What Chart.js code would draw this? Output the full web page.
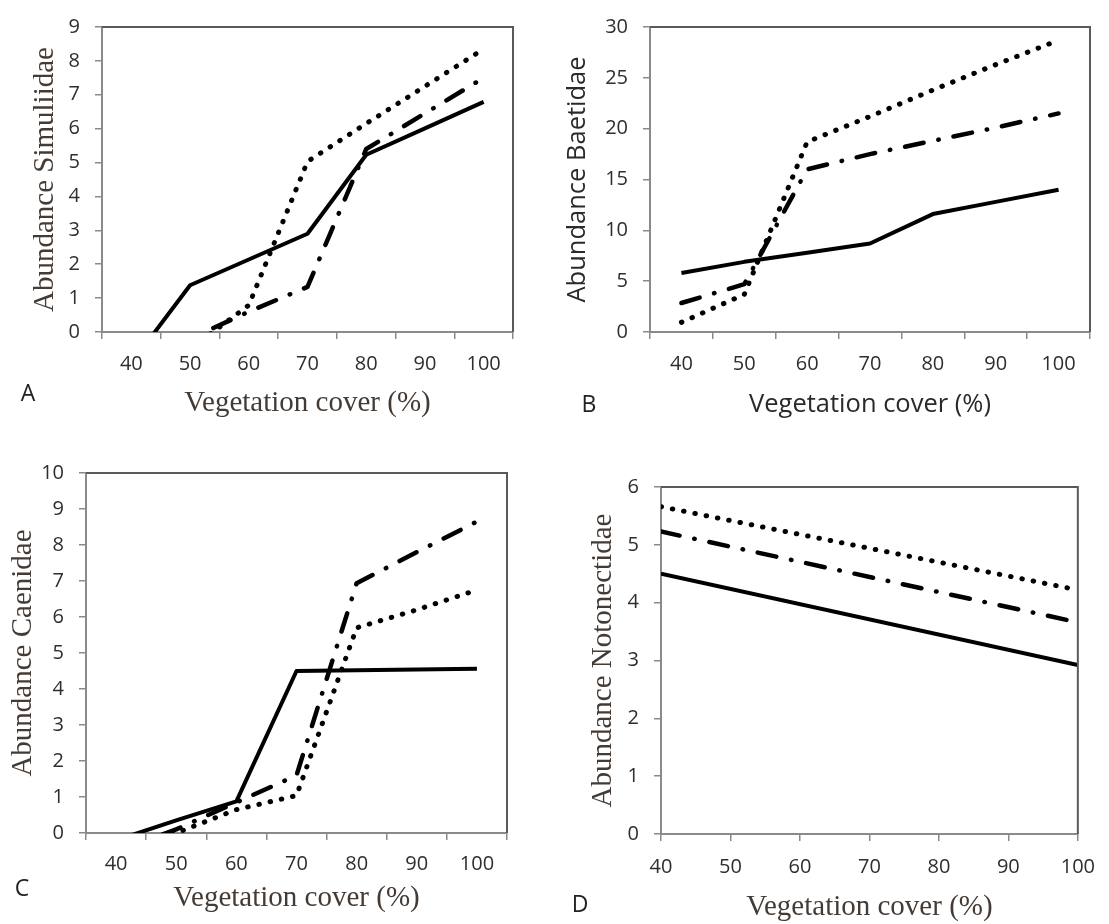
<!DOCTYPE html>
<html>
<head>
<meta charset="utf-8">
<script src="https://cdn.jsdelivr.net/npm/chart.js@4.4.1/dist/chart.umd.min.js"></script>
<style>
    body { margin: 0; background: #fff; width: 1109px; height: 924px; position: relative; overflow: hidden; }
    canvas { position: absolute; }
    .letter { position: absolute; font-family: 'Open Sans', sans-serif; font-size: 23px; color: #222; line-height: 1; transform: translate(-50%, -50%); }
</style>
</head>
<body>
<canvas id="chartA" width="540" height="430" style="left:0;top:0"></canvas>
<canvas id="chartB" width="569" height="430" style="left:540px;top:0"></canvas>
<canvas id="chartC" width="540" height="484" style="left:0;top:440px"></canvas>
<canvas id="chartD" width="549" height="464" style="left:560px;top:460px"></canvas>
<div class="letter" style="left:28px;top:392px">A</div>
<div class="letter" style="left:589px;top:403px">B</div>
<div class="letter" style="left:22px;top:887px">C</div>
<div class="letter" style="left:580px;top:903px">D</div>

<script>
// x categories (vegetation cover, %)
const vegCover = ['40', '50', '60', '70', '80', '90', '100'];

// A - Simuliidae
const simuliidaeSolid = [-0.92, 1.38, 2.14, 2.9, 5.23, 6.01, 6.79];
const simuliidaeDot = [-2.5, -0.5, 0.79, 5.03, 6.15, 7.25, 8.35];
const simuliidaeDashDot = [-1.5, -0.2, 0.6, 1.33, 5.4, 6.45, 7.5];

// B - Baetidae
const baetidaeSolid = [5.8, 6.9, 7.8, 8.7, 11.6, 12.8, 14.0];
const baetidaeDot = [0.95, 3.7, 18.7, 21.2, 23.8, 26.3, 28.7];
const baetidaeDashDot = [2.85, 4.7, 16.0, 17.5, 18.8, 20.1, 21.5];

// C - Caenidae
const caenidaeSolid = [-0.2, 0.35, 0.88, 4.5, 4.52, 4.54, 4.56];
const caenidaeDot = [-0.4, 0.0, 0.65, 1.04, 5.7, 6.2, 6.75];
const caenidaeDashDot = [-0.5, 0.1, 0.85, 1.6, 6.94, 7.8, 8.65];

// D - Notonectidae (straight lines, only the end points are known)
const notonectidaeSolid = [4.5, null, null, null, null, null, 2.92];
const notonectidaeDot = [5.66, null, null, null, null, null, 4.22];
const notonectidaeDashDot = [5.23, null, null, null, null, null, 3.66];

const axisGray = '#8a8a8a';
const frameGray = '#5a5a5a';
const tickColor = '#2e2e2e';
const serifColor = '#453b35';

// top and right edge of the plot box
const framePlugin = {
    id: 'frame',
    afterDraw(chart) {
        const { ctx, chartArea: { left, right, top, bottom } } = chart;
        ctx.save();
        ctx.strokeStyle = frameGray;
        ctx.lineWidth = 2;
        ctx.beginPath();
        ctx.moveTo(left, top);
        ctx.lineTo(right, top);
        ctx.lineTo(right, bottom);
        ctx.stroke();
        ctx.restore();
    }
};

function lineSet(data, style) {
    const ds = {
        data: data,
        borderColor: '#000',
        borderWidth: 4,
        pointRadius: 0,
        tension: 0,
        fill: false,
        spanGaps: true,
        borderJoinStyle: 'round',
        clip: 0
    };
    if (style === 'dot') {
        ds.borderWidth = 5;
        ds.borderDash = [0.5, 11];
        ds.borderCapStyle = 'round';
    } else if (style === 'dashdot') {
        ds.borderWidth = 4.5;
        ds.borderDash = [19, 15, 0.5, 15];
        ds.borderCapStyle = 'round';
    }
    return ds;
}

function makePanel(id, cfg) {
    const serif = cfg.serif;
    const titleFont = serif
        ? { family: 'Liberation Serif', size: 29, lineHeight: 1 }
        : { family: 'Open Sans', size: 25.5, lineHeight: 1 };
    const titleColor = serif ? serifColor : '#2a2a2a';
    const tickFont = { family: 'Open Sans', size: 20 };

    // panels A-C put labels between the tick marks, D puts them on the tick marks
    const between = !cfg.edgeLabels;

    return new Chart(document.getElementById(id), {
        type: 'line',
        data: {
            labels: vegCover,
            datasets: cfg.series.map(s => lineSet(s.data, s.style))
        },
        options: {
            responsive: false,
            animation: false,
            layout: { padding: { left: 0, top: cfg.top, right: cfg.right, bottom: 0 } },
            plugins: { legend: { display: false }, tooltip: { enabled: false } },
            scales: {
                x: {
                    type: 'category',
                    position: 'bottom',
                    offset: between,
                    ticks: { font: tickFont, color: tickColor, padding: cfg.xPad, maxRotation: 0, autoSkip: false },
                    grid: { offset: between, drawOnChartArea: false, tickLength: 7, color: axisGray, lineWidth: 1.5 },
                    border: { color: axisGray, width: 2 },
                    title: { display: true, text: 'Vegetation cover (%)', font: titleFont, color: titleColor, padding: { top: 0, bottom: cfg.xTitlePad } },
                    afterFit: s => { s.height = cfg.xHeight; }
                },
                y: {
                    min: 0, max: cfg.yMax,
                    ticks: { stepSize: cfg.yStep, font: tickFont, color: tickColor, padding: 15 },
                    grid: { drawOnChartArea: false, tickLength: 7, color: axisGray, lineWidth: 1.5 },
                    border: { color: axisGray, width: 2 },
                    title: { display: true, text: cfg.yTitle, font: titleFont, color: titleColor, padding: { top: cfg.yTitlePad, bottom: 0 } },
                    afterFit: s => { s.width = cfg.yWidth; }
                }
            }
        },
        plugins: [framePlugin]
    });
}

makePanel('chartA', {
    serif: true, yTitle: 'Abundance Simuliidae', yMax: 9, yStep: 1,
    top: 17, right: 27, yWidth: 102, xHeight: 98, xPad: 13, xTitlePad: 12, yTitlePad: 31,
    series: [
        { data: simuliidaeSolid, style: 'solid' },
        { data: simuliidaeDot, style: 'dot' },
        { data: simuliidaeDashDot, style: 'dashdot' }
    ]
});

makePanel('chartB', {
    serif: false, yTitle: 'Abundance Baetidae', yMax: 30, yStep: 5,
    top: 22, right: 19, yWidth: 110, xHeight: 98, xPad: 13, xTitlePad: 13, yTitlePad: 25,
    series: [
        { data: baetidaeSolid, style: 'solid' },
        { data: baetidaeDot, style: 'dot' },
        { data: baetidaeDashDot, style: 'dashdot' }
    ]
});

makePanel('chartC', {
    serif: true, yTitle: 'Abundance Caenidae', yMax: 10, yStep: 1,
    top: 33, right: 33, yWidth: 86, xHeight: 91, xPad: 12, xTitlePad: 11, yTitlePad: 9,
    series: [
        { data: caenidaeSolid, style: 'solid' },
        { data: caenidaeDot, style: 'dot' },
        { data: caenidaeDashDot, style: 'dashdot' }
    ]
});

makePanel('chartD', {
    serif: true, edgeLabels: true, yTitle: 'Abundance Notonectidae', yMax: 6, yStep: 1,
    top: 22, right: 26, yWidth: 101, xHeight: 90, xPad: 14, xTitlePad: 2, yTitlePad: 29,
    series: [
        { data: notonectidaeSolid, style: 'solid' },
        { data: notonectidaeDot, style: 'dot' },
        { data: notonectidaeDashDot, style: 'dashdot' }
    ]
});
</script>
</body>
</html>
